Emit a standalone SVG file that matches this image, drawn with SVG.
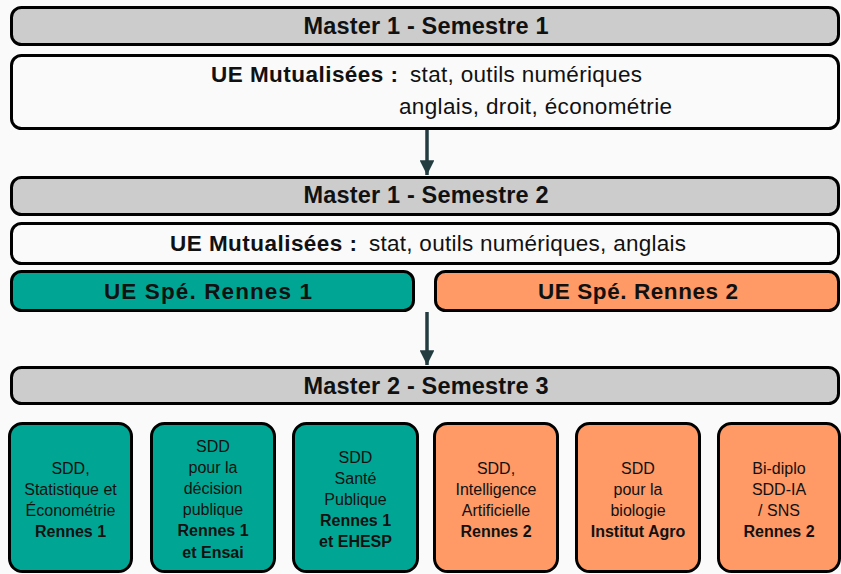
<svg xmlns="http://www.w3.org/2000/svg" width="841" height="574" viewBox="0 0 841 574">
<style>
  .bg{fill:#fafafa}
  .box{stroke:#000;stroke-width:3}
  .gray{fill:#cccccc}
  .white{fill:#fafafa}
  .teal{fill:#00a693}
  .orange{fill:#ff9966}
  text{font-family:"Liberation Sans",Arial,sans-serif;fill:#111}
  .big{font-size:22.5px}
  .title{font-size:23.5px}
  .b{font-weight:bold}
  .small{font-size:16px;text-anchor:middle}
  .mid{text-anchor:middle}
  .conn{stroke:#233c40;stroke-width:3.5;fill:none}
</style>
<defs>
  <marker id="arr" viewBox="0 0 10 10" refX="10" refY="5" markerWidth="4.2" markerHeight="4.2" markerUnits="strokeWidth" orient="auto">
    <path d="M0,0 L10,5 L0,10 Z" fill="#233c40"/>
  </marker>
</defs>
<rect class="bg" x="0" y="0" width="841" height="574"/>

<g id="connectors">
  <line class="conn" x1="427" y1="130" x2="427" y2="175" marker-end="url(#arr)"/>
  <line class="conn" x1="427" y1="312" x2="427" y2="365" marker-end="url(#arr)"/>
</g>

<g id="m1s1">
  <rect class="box gray" x="11.5" y="7.5" width="827" height="37" rx="10"/>
  <text class="title b mid" x="426" y="34" textLength="245">Master 1 - Semestre 1</text>
</g>
<g id="ue-mut-1">
  <rect class="box white" x="11.5" y="55.5" width="827" height="73" rx="10"/>
  <text class="big b" x="211" y="82" textLength="187">UE Mutualisées :</text>
  <text class="big" x="410" y="82" textLength="232">stat, outils numériques</text>
  <text class="big" x="399" y="114" textLength="273">anglais, droit, économétrie</text>
</g>

<g id="m1s2">
  <rect class="box gray" x="11.5" y="177.5" width="827" height="37" rx="10"/>
  <text class="title b mid" x="426" y="203" textLength="245">Master 1 - Semestre 2</text>
</g>
<g id="ue-mut-2">
  <rect class="box white" x="11.5" y="223.5" width="827" height="40" rx="10"/>
  <text class="big b" x="170" y="251" textLength="187">UE Mutualisées :</text>
  <text class="big" x="369" y="251" textLength="317">stat, outils numériques, anglais</text>
</g>
<g id="ue-spe-r1">
  <rect class="box teal" x="11.5" y="271.5" width="402" height="39" rx="10"/>
  <text class="big b mid" x="208" y="299" textLength="208">UE Spé. Rennes 1</text>
</g>
<g id="ue-spe-r2">
  <rect class="box orange" x="435.5" y="271.5" width="403" height="39" rx="10"/>
  <text class="big b mid" x="638" y="299" textLength="200">UE Spé. Rennes 2</text>
</g>

<g id="m2s3">
  <rect class="box gray" x="11.5" y="367.5" width="827" height="36" rx="10"/>
  <text class="title b mid" x="426" y="394" textLength="245">Master 2 - Semestre 3</text>
</g>

<g id="sdd-econometrie">
  <rect class="box teal" x="9.5" y="423.5" width="122" height="148" rx="13"/>
  <text class="small" x="70.5" y="474">SDD,</text>
  <text class="small" x="70.5" y="495">Statistique et</text>
  <text class="small" x="70.5" y="516">Économétrie</text>
  <text class="small b" x="70.5" y="537">Rennes 1</text>
</g>
<g id="sdd-decision">
  <rect class="box teal" x="151.5" y="423.5" width="123" height="148" rx="13"/>
  <text class="small" x="213" y="452">SDD</text>
  <text class="small" x="213" y="473">pour la</text>
  <text class="small" x="213" y="494">décision</text>
  <text class="small" x="213" y="515">publique</text>
  <text class="small b" x="213" y="536">Rennes 1</text>
  <text class="small b" x="213" y="558">et Ensai</text>
</g>
<g id="sdd-sante">
  <rect class="box teal" x="293.5" y="423.5" width="124" height="148" rx="13"/>
  <text class="small" x="355.5" y="463">SDD</text>
  <text class="small" x="355.5" y="484">Santé</text>
  <text class="small" x="355.5" y="505">Publique</text>
  <text class="small b" x="355.5" y="526">Rennes 1</text>
  <text class="small b" x="355.5" y="547">et EHESP</text>
</g>
<g id="sdd-ia">
  <rect class="box orange" x="434.5" y="423.5" width="123" height="148" rx="13"/>
  <text class="small" x="496" y="474">SDD,</text>
  <text class="small" x="496" y="495">Intelligence</text>
  <text class="small" x="496" y="516">Artificielle</text>
  <text class="small b" x="496" y="537">Rennes 2</text>
</g>
<g id="sdd-bio">
  <rect class="box orange" x="576.5" y="423.5" width="123" height="148" rx="13"/>
  <text class="small" x="638" y="474">SDD</text>
  <text class="small" x="638" y="495">pour la</text>
  <text class="small" x="638" y="516">biologie</text>
  <text class="small b" x="638" y="537">Institut Agro</text>
</g>
<g id="bi-diplo">
  <rect class="box orange" x="718.5" y="423.5" width="121" height="148" rx="13"/>
  <text class="small" x="779" y="474">Bi-diplo</text>
  <text class="small" x="779" y="495">SDD-IA</text>
  <text class="small" x="779" y="516">/ SNS</text>
  <text class="small b" x="779" y="537">Rennes 2</text>
</g>
</svg>
